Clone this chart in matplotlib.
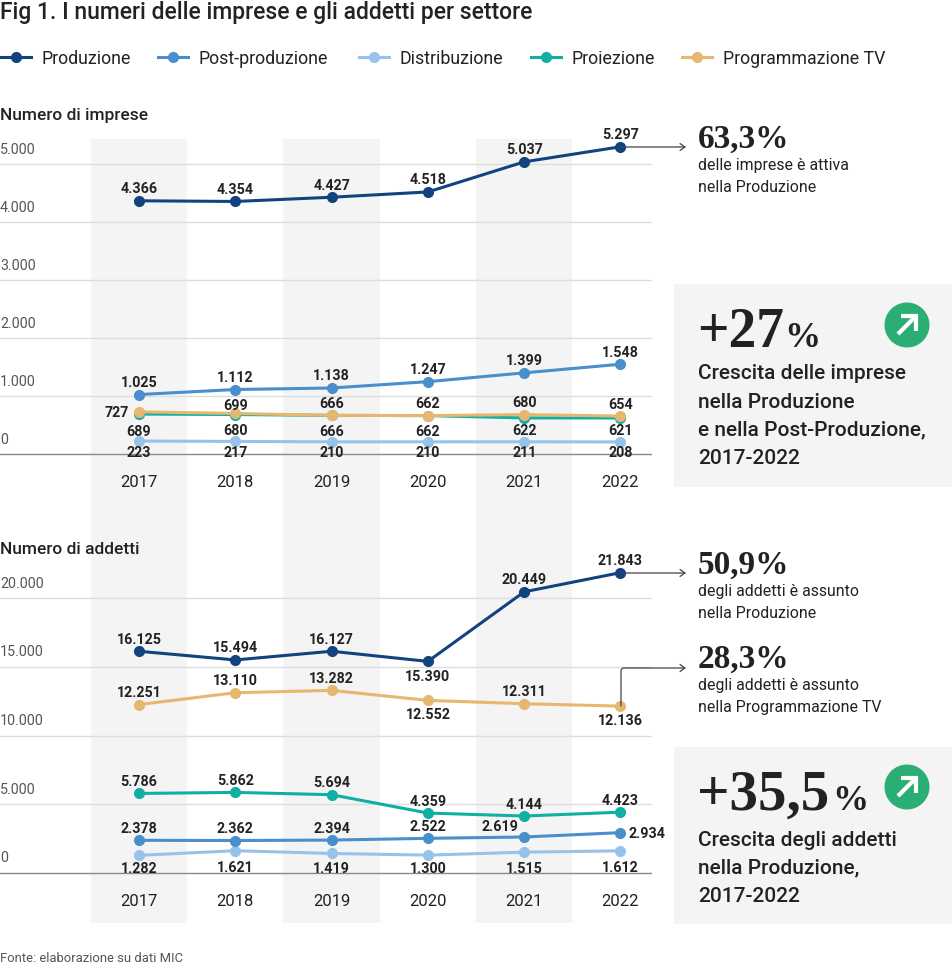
import matplotlib
matplotlib.use("Agg")
from matplotlib import pyplot as plt
from matplotlib.patches import Rectangle, Circle

anni = [2017, 2018, 2019, 2020, 2021, 2022]
tick_imprese = [0, 1000, 2000, 3000, 4000, 5000]
tick_addetti = [0, 5000, 10000, 15000, 20000]

imprese_produzione = [4366, 4354, 4427, 4518, 5037, 5297]
imprese_post = [1025, 1112, 1138, 1247, 1399, 1548]
imprese_distribuzione = [223, 217, 210, 210, 211, 208]
imprese_proiezione = [689, 680, 666, 662, 622, 621]
imprese_tv = [727, 699, 666, 662, 680, 654]

addetti_produzione = [16125, 15494, 16127, 15390, 20449, 21843]
addetti_post = [2378, 2362, 2394, 2522, 2619, 2934]
addetti_distribuzione = [1282, 1621, 1419, 1300, 1515, 1612]
addetti_proiezione = [5786, 5862, 5694, 4359, 4144, 4423]
addetti_tv = [12251, 13110, 13282, 12552, 12311, 12136]

BLU = "#12437f"
AZZURRO = "#4a8ecb"
CELESTE = "#97c3ea"
VERDE = "#0fb0a3"
OCRA = "#e6b76e"
TESTO = "#222222"
W, H = 953, 976

plt.rcParams['font.family'] = ['Roboto', 'DejaVu Sans']
fig = plt.figure(figsize=(W / 100, H / 100), dpi=100, facecolor="white")


def px_axes(x0, y0, x1, y1):
    return fig.add_axes([x0 / W, 1 - y1 / H, (x1 - x0) / W, (y1 - y0) / H])


def testo(x, y, s, size=12, weight="normal", color=TESTO, family=None, **kw):
    kw.setdefault("va", "center_baseline")
    if family:
        kw["family"] = family
    fig.text(x / W, 1 - y / H, s, fontsize=size, fontweight=weight, color=color, **kw)


def etichetta(ax, x, y, s, dx, dy):
    ax.annotate(s, (x, y), xytext=(dx, -dy), textcoords="offset pixels",
                ha="center", va="center_baseline", fontsize=10.3, fontweight="semibold", color=TESTO)


def pannello(top, bottom, y_zero, px_per_unit, ticks, serie, etichette):
    ax = px_axes(0, top, 652, bottom)
    ax.set_xlim(2017 - 139 / 96.3, 2017 + 513 / 96.3)
    ax.set_ylim((y_zero - bottom) / px_per_unit, (y_zero - top) / px_per_unit)
    ax.axis("off")
    ax.patch.set_alpha(0)
    for t in ticks:
        ax.axhline(t, color="#8a8a8a" if t == 0 else "#dddddd", lw=1, zorder=1)
        lab = f"{t:,}".replace(",", ".")
        ax.annotate(lab, (0, t), xycoords=ax.get_yaxis_transform(), xytext=(0, 16),
                    textcoords="offset pixels", va="center_baseline", fontsize=10.3, color="#555555")
    for anno in anni:
        ax.annotate(str(anno), (anno, 0), xytext=(0, -27),
                    textcoords="offset pixels", ha="center", va="center_baseline", fontsize=12, color=TESTO)
    for valori, colore in serie:
        ax.plot(anni, valori, color=colore, lw=2.2, marker="o", ms=7, mec=colore, zorder=3)
    for valori, dy, override in etichette:
        for i, v in enumerate(valori):
            dx, d = override.get(i, (0, dy))
            etichetta(ax, anni[i], v, f"{v:,}".replace(",", "."), dx, d)
    return ax


def riquadro(x0, y0, x1, y1):
    fig.add_artist(Rectangle((x0 / W, 1 - y1 / H), (x1 - x0) / W, (y1 - y0) / H,
                             transform=fig.transFigure, color="#f4f4f4", lw=0, zorder=0))


def freccia_verde(cx, cy):
    # cerchio con freccia, in un asse in pixel
    ax = px_axes(cx - 24, cy - 24, cx + 24, cy + 24)
    ax.set_xlim(-24, 24)
    ax.set_ylim(-24, 24)
    ax.axis("off")
    ax.add_patch(Circle((0, 0), 22.5, color="#2bae74", lw=0))
    ax.plot([-9, 7], [-9, 7], color="white", lw=3, solid_capstyle="butt")
    ax.plot([-6, 9, 9], [9, 9, -6], color="white", lw=3, solid_joinstyle="miter", solid_capstyle="butt")


# bande grigie continue dietro i due grafici
sfondo = px_axes(0, 139, 652, 923)
sfondo.set_xlim(2017 - 139 / 96.3, 2017 + 513 / 96.3)
sfondo.axis("off")
for anno in anni[::2]:
    sfondo.axvspan(anno - 0.5, anno + 0.5, color="#f4f4f4", lw=0, zorder=0)

# titolo e legenda
testo(0, 10, "Fig 1. I numeri delle imprese e gli addetti per settore", size=16.5, weight="medium")
voci = [("Produzione", BLU, 1), ("Post-produzione", AZZURRO, 158), ("Distribuzione", CELESTE, 359),
        ("Proiezione", VERDE, 531), ("Programmazione TV", OCRA, 682)]
leg = px_axes(0, 45, W, 69)
leg.set_xlim(0, W)
leg.set_ylim(24, 0)
leg.axis("off")
for nome, colore, x in voci:
    leg.plot([x, x + 30], [12, 12], color=colore, lw=2.2)
    leg.plot([x + 15], [12], color=colore, marker="o", ms=7)
    leg.text(x + 41, 12, nome, fontsize=12.8, color=TESTO, va="center_baseline")

testo(0, 114, "Numero di imprese", size=12.5, weight="medium")
testo(0, 548, "Numero di addetti", size=12.5, weight="medium")

pannello(139, 504, 454, 0.058, tick_imprese,
         [(imprese_distribuzione, CELESTE), (imprese_proiezione, VERDE), (imprese_post, AZZURRO),
          (imprese_tv, OCRA), (imprese_produzione, BLU)],
         [(imprese_produzione, -13, {}), (imprese_post, -13, {}), (imprese_tv, -13, {0: (-22, 0), 1: (0, -9)}),
          (imprese_proiezione, 15, {0: (0, 16), 4: (0, 12), 5: (0, 12)}), (imprese_distribuzione, 10, {})])

pannello(528, 923, 873, 0.01375, tick_addetti,
         [(addetti_distribuzione, CELESTE), (addetti_post, AZZURRO), (addetti_proiezione, VERDE),
          (addetti_tv, OCRA), (addetti_produzione, BLU)],
         [(addetti_produzione, -13, {3: (0, 14)}), (addetti_post, -13, {4: (-24, -11), 5: (27, 0)}),
          (addetti_proiezione, -13, {}), (addetti_tv, -13, {3: (0, 13), 5: (0, 13)}),
          (addetti_distribuzione, 12, {1: (0, 16), 2: (0, 14), 4: (0, 15), 5: (0, 16)})])

# frecce e richiami, sopra tutto in un asse in pixel
ov = px_axes(0, 0, W, H)
ov.set_xlim(0, W)
ov.set_ylim(H, 0)
ov.axis("off")
ov.patch.set_alpha(0)
stile = dict(arrowstyle="->,head_length=0.35,head_width=0.25", color="#444444", lw=0.9, shrinkA=0, shrinkB=0)
ov.annotate("", xy=(686, 147), xytext=(621, 147), arrowprops=stile)
ov.annotate("", xy=(686, 573), xytext=(621, 573), arrowprops=stile)
ov.annotate("", xy=(686, 668), xytext=(621, 706),
            arrowprops=dict(connectionstyle="angle,angleA=90,angleB=0,rad=3", **stile))

SERIF = "Liberation Serif"
testo(698, 148, "63,3%", size=24, family=SERIF, weight="bold", va="baseline")
testo(698, 164, "delle imprese è attiva", size=11.4)
testo(698, 186, "nella Produzione", size=11.4)
testo(698, 574, "50,9%", size=24, family=SERIF, weight="bold", va="baseline")
testo(698, 590, "degli addetti è assunto", size=11.4)
testo(698, 612, "nella Produzione", size=11.4)
testo(698, 668, "28,3%", size=24, family=SERIF, weight="bold", va="baseline")
testo(698, 684, "degli addetti è assunto", size=11.4)
testo(698, 706, "nella Programmazione TV", size=11.4)

riquadro(674, 284, 953, 487)
testo(697, 347, "+27", size=40, family=SERIF, weight="bold", va="baseline")
testo(784, 347, "%", size=26, family=SERIF, weight="bold", va="baseline")
freccia_verde(907, 325)
for y, s in zip([372, 400, 428, 456],
                ["Crescita delle imprese", "nella Produzione", "e nella Post-Produzione,", "2017-2022"]):
    testo(698, y, s, size=15, weight="medium")

riquadro(674, 747, 953, 924)
testo(697, 810, "+35,5", size=41, family=SERIF, weight="bold", va="baseline")
testo(832, 810, "%", size=26, family=SERIF, weight="bold", va="baseline")
freccia_verde(907, 787)
for y, s in zip([838, 866, 894], ["Crescita degli addetti", "nella Produzione,", "2017-2022"]):
    testo(698, y, s, size=15, weight="medium")

testo(0, 957, "Fonte: elaborazione su dati MIC", size=9.4, color="#555555")

fig.savefig("out.png", dpi=100)
